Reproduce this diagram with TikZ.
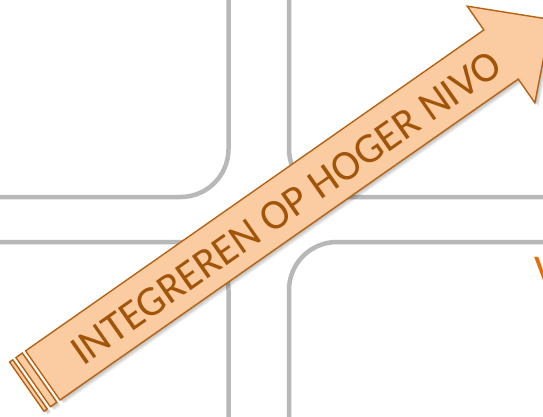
\documentclass[tikz,border=0pt]{standalone}
\usepackage{fontspec}
\setmainfont{Carlito}
\definecolor{gridgray}{RGB}{184,184,184}
\definecolor{arrowfill}{RGB}{251,203,161}
\definecolor{arrowline}{RGB}{182,98,18}
\definecolor{arrowtext}{RGB}{162,84,8}
\definecolor{titleorange}{RGB}{228,108,10}
\begin{document}
\begin{tikzpicture}[x=1pt,y=-1pt,
  grid/.style={draw=gridgray, line width=4.5pt, rounded corners=48pt},
  arrowstyle/.style={fill=arrowfill, draw=arrowline, line width=1.4pt, line join=miter},
  shadowstyle/.style={fill=black, opacity=0.07},
  bodyshape/.style={insert path={(-180.5,-30) -- (379,-30) -- (379,-59) -- (440,0) -- (379,59) -- (379,30) -- (-180.5,30) -- cycle}},
  stripeone/.style={insert path={(-200,-30) rectangle (-196.1,30)}},
  stripetwo/.style={insert path={(-192.2,-30) rectangle (-184.4,30)}},
  labelstyle/.style={text=arrowtext, font=\fontsize{42.5}{42.5}\selectfont, inner sep=0pt}]
\useasboundingbox (0,0) rectangle (543,417);
\clip (0,0) rectangle (543,417);
\fill[white] (0,0) rectangle (543,417);
% quadrants
\draw[grid] (-80,-80) rectangle (228.5,197);
\draw[grid] (289,-80) rectangle (640,197);
\draw[grid] (-80,242) rectangle (228.5,500);
\draw[grid] (289,242) rectangle (640,500);
% partial title letter
\node[anchor=north west, inner sep=0pt, text=titleorange, font=\fontsize{44}{44}\selectfont] (title) at (534,257) {V};
% arrow
\begin{scope}[shift={(190.6,271.9)}, rotate=35]
  \foreach \k in {1,2,3,4} {
    \fill[shadowstyle, shift={(0.3*\k,1.3*\k)}, bodyshape];
    \fill[shadowstyle, shift={(0.3*\k,1.3*\k)}, stripeone];
    \fill[shadowstyle, shift={(0.3*\k,1.3*\k)}, stripetwo];
  }
  \filldraw[arrowstyle, bodyshape];
  \filldraw[arrowstyle, stripeone];
  \filldraw[arrowstyle, stripetwo];
  \node[labelstyle, transform shape, anchor=base] (label) at (115,16) {INTEGREREN OP HOGER NIVO};
\end{scope}
\end{tikzpicture}
\end{document}
